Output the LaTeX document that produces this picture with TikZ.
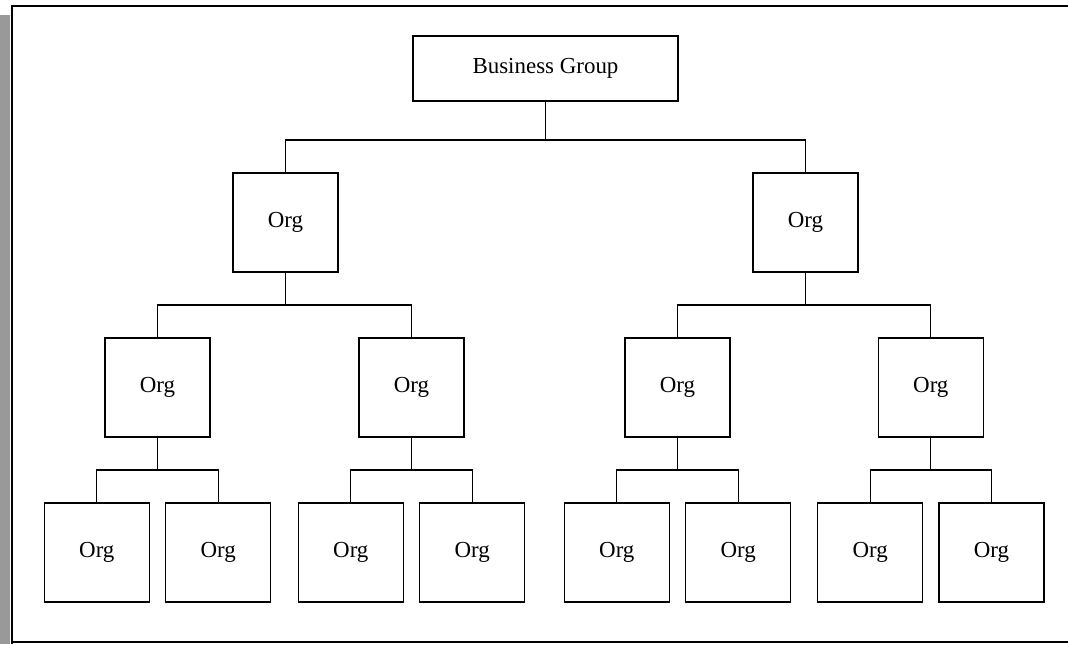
\documentclass[tikz,border=0pt]{standalone}
\usepackage{fontspec}
\setmainfont{Liberation Serif}
\usepackage{tikz}
\usetikzlibrary{positioning}

\begin{document}
\begin{tikzpicture}[
    orgbox/.style={rectangle, draw=black, line width=1pt, outer sep=0pt, minimum width=78.75pt, minimum height=74.25pt, inner sep=0pt, align=center, font=\fontsize{17.2}{20}\selectfont},
    topbox/.style={orgbox, minimum width=198.75pt, minimum height=48.75pt},
    link/.style={draw=black, line width=0.8pt}
]

% Page frame
\useasboundingbox (0,0) rectangle (801pt,-483pt);
\fill[black!40] (0,-11pt) rectangle (7.5pt,-483pt);
\draw[line width=1.6pt] (801pt,-4.5pt) -- (9pt,-4.5pt) -- (9pt,-483pt);
\draw[line width=1.6pt] (9pt,-481.5pt) -- (801pt,-481.5pt);

% Top level
\node[topbox] (group) at (409.125pt,-51.375pt) {Business Group};

% First level
\node[orgbox, below=54pt of group, xshift=-195pt] (orgA) {Org};
\node[orgbox, below=54pt of group, xshift=195pt] (orgB) {Org};

% Second level
\node[orgbox, below=49.5pt of orgA, xshift=-96pt] (orgAA) {Org};
\node[orgbox, below=49.5pt of orgA, xshift=94.5pt] (orgAB) {Org};
\node[orgbox, below=49.5pt of orgB, xshift=-96pt] (orgBA) {Org};
\node[orgbox, below=49.5pt of orgB, xshift=94pt] (orgBB) {Org};

% Third level
\foreach \p in {AA,AB,BA,BB}{
  \node[orgbox, below=49.5pt of org\p, xshift=-45.5pt] (org\p1) {Org};
  \node[orgbox, below=49.5pt of org\p, xshift=45.5pt] (org\p2) {Org};
}

% Connectors
\draw[link] (group.south) -- ++(0,-29.25pt) -| (orgA.north);
\draw[link] (group.south) -- ++(0,-29.25pt) -| (orgB.north);
\foreach \p in {A,B}{
  \draw[link] (org\p.south) -- ++(0,-24.75pt) -| (org\p A.north);
  \draw[link] (org\p.south) -- ++(0,-24.75pt) -| (org\p B.north);
}
\foreach \p in {AA,AB,BA,BB}{
  \draw[link] (org\p.south) -- ++(0,-24.75pt) -| (org\p1.north);
  \draw[link] (org\p.south) -- ++(0,-24.75pt) -| (org\p2.north);
}

\end{tikzpicture}
\end{document}
